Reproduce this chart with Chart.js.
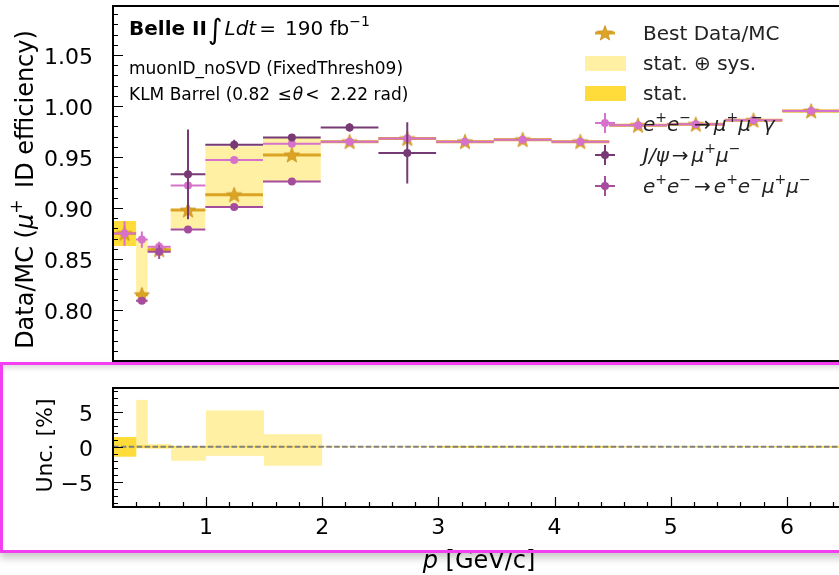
<!DOCTYPE html>
<html>
<head>
<meta charset="utf-8">
<script src="https://cdn.jsdelivr.net/npm/chart.js@4.4.1/dist/chart.umd.min.js"></script>
<style>
    body { margin: 0; background: #fff; width: 839px; height: 575px; overflow: hidden; position: relative; }
    canvas { position: absolute; left: 0; }
    #ratio { top: 0; }
    #unc { top: 365px; }
    #box {
        position: absolute; left: 0; top: 362px; width: 860px; height: 191px;
        box-sizing: border-box; border: 3px solid #f43ef2; pointer-events: none;
        box-shadow: 0 5px 8px rgba(0, 0, 0, 0.22), inset 0 5px 6px -3px rgba(0, 0, 0, 0.18);
    }
</style>
</head>
<body>
<canvas id="ratio" width="845" height="366"></canvas>
<canvas id="unc" width="845" height="210"></canvas>
<div id="box"></div>
<script>
// momentum bins [GeV/c]
const binLo = [0.2, 0.4, 0.5, 0.7, 1.0, 1.5, 2.0, 2.5, 3.0, 3.5, 4.0, 4.5, 5.0, 5.5, 6.0];
const binHi = [0.4, 0.5, 0.7, 1.0, 1.5, 2.0, 2.5, 3.0, 3.5, 4.0, 4.5, 5.0, 5.5, 6.0, 6.5];
const pCenter = [0.3, 0.45, 0.6, 0.85, 1.25, 1.75, 2.25, 2.75, 3.25, 3.75, 4.25, 4.75, 5.25, 5.75, 6.25];

// best Data/MC and its uncertainties [%]
const bestRatio = [0.875, 0.815, 0.859, 0.898, 0.913, 0.952, 0.965, 0.968, 0.965, 0.967, 0.965, 0.981, 0.982, 0.986, 0.995];
const totUp =   [1.4, 6.7, 0.4, 0.1, 5.2, 1.8, 0.05, 0.05, 0.15, 0.15, 0.15, 0.08, 0.08, 0.08, 0.15];
const totDown = [1.4, 0.2, 0.3, 2.0, 1.3, 2.7, 0.05, 0.05, 0.15, 0.15, 0.15, 0.08, 0.08, 0.08, 0.15];
const statUnc = [1.4, 0.2, 0.15, 0.1, 0.1, 0.1, 0.05, 0.05, 0.1, 0.1, 0.1, 0.05, 0.05, 0.05, 0.1];

// e+e- -> mu+mu- gamma (all bins)
const mmgRatio = [0.875, 0.869, 0.862, 0.922, 0.947, 0.963, 0.965, 0.968, 0.965, 0.967, 0.965, 0.981, 0.982, 0.986, 0.995];
const mmgErr =   [0.012, 0.008, 0.005, 0.002, 0.002, 0.002, 0.002, 0.002, 0.001, 0.001, 0.001, 0.001, 0.001, 0.001, 0.001];

// J/psi -> mu+mu- (bin indices)
const jpsiBins = [3, 4, 5, 6, 7];
const jpsiRatio = [0.933, 0.962, 0.969, 0.979, 0.954];
const jpsiErr = [0.044, 0.005, 0.003, 0.004, 0.030];

// e+e- -> e+e-mu+mu- (bin indices)
const eemmBins = [1, 2, 3, 4, 5];
const eemmRatio = [0.809, 0.857, 0.879, 0.901, 0.926];
const eemmErr = [0.003, 0.007, 0.002, 0.002, 0.002];

const xTicks = [1, 2, 3, 4, 5, 6];
const yTicksRatio = [0.80, 0.85, 0.90, 0.95, 1.00, 1.05];
const yTicksUnc = [-5, 0, 5];

const FONT = "'DejaVu Sans'";
const cBest = "#dca425";
const cTot = "#fff0a3";
const cStat = "#ffdc3a";
const cMmg = "#d672cc";
const cJpsi = "#773a74";
const cEemm = "#a54c9c";

function binPoints(idx, vals) {
    return idx.map((b, i) => ({ x: pCenter[b], y: vals[i], lo: binLo[b], hi: binHi[b] }));
}
const allBins = pCenter.map((_, i) => i);

function makeStar(r, color) {
    const c = document.createElement("canvas");
    const s = Math.ceil(2 * r + 2);
    c.width = c.height = s;
    const g = c.getContext("2d");
    g.fillStyle = color;
    g.strokeStyle = "#c8901c";
    g.lineWidth = 0.8;
    g.beginPath();
    for (let k = 0; k < 10; k++) {
        const rr = k % 2 ? r * 0.42 : r;
        const a = -Math.PI / 2 + (k * Math.PI) / 5;
        g.lineTo(s / 2 + rr * Math.cos(a), s / 2 + 0.6 + rr * Math.sin(a));
    }
    g.closePath();
    g.fill();
    g.stroke();
    return c;
}
const starImg = makeStar(8, cBest);

// draws text made of pieces: [text, font, dy] or a number (gap in px)
function richWidth(ctx, parts) {
    let w = 0;
    parts.forEach((p) => {
        if (typeof p === "number") { w += p; return; }
        ctx.font = p[1];
        w += ctx.measureText(p[0]).width;
    });
    return w;
}
function drawRich(ctx, x, y, parts) {
    ctx.textAlign = "left";
    ctx.textBaseline = "alphabetic";
    parts.forEach((p) => {
        if (typeof p === "number") { x += p; return; }
        ctx.font = p[1];
        ctx.fillText(p[0], x, y + (p[2] || 0));
        x += ctx.measureText(p[0]).width;
    });
}

const f20 = "20px " + FONT, i20 = "italic 20px " + FONT, s14 = "14px " + FONT;
const f17 = "17px " + FONT, i17 = "italic 17px " + FONT;
const f22 = "22px " + FONT;
const f24 = "24px " + FONT, i24 = "italic 24px " + FONT, s17 = "17px " + FONT;

// inward ticks and frame
function drawFrame(chart, t) {
    const { ctx, chartArea: a, scales: { x, y } } = chart;
    ctx.save();
    ctx.strokeStyle = "#000";
    ctx.lineWidth = 1.2;
    ctx.beginPath();
    for (let n = Math.ceil(y.min / t.yMinor - 1e-6); n * t.yMinor <= y.max + 1e-9; n++) {
        const v = n * t.yMinor;
        const major = Math.abs(v / t.yMajor - Math.round(v / t.yMajor)) < 1e-6;
        const py = Math.round(y.getPixelForValue(v)) + 0.5;
        ctx.moveTo(a.left, py);
        ctx.lineTo(a.left + (major ? 10 : 5), py);
    }
    if (t.xMinor) {
        for (let n = Math.ceil(x.min / t.xMinor - 1e-6); n * t.xMinor <= x.max + 1e-9; n++) {
            const v = n * t.xMinor;
            const major = Math.abs(v / t.xMajor - Math.round(v / t.xMajor)) < 1e-6;
            const px = Math.round(x.getPixelForValue(v)) + 0.5;
            ctx.moveTo(px, a.bottom);
            ctx.lineTo(px, a.bottom - (major ? 10 : 5));
        }
    }
    ctx.stroke();
    ctx.lineWidth = 2;
    ctx.strokeRect(a.left, a.top, a.right - a.left + 5, a.bottom - a.top);
    ctx.restore();
}

function fillBin(chart, i, v1, v2, color) {
    const { ctx, scales: { x, y } } = chart;
    const x1 = x.getPixelForValue(binLo[i]), x2 = x.getPixelForValue(binHi[i]);
    const y1 = y.getPixelForValue(v1), y2 = y.getPixelForValue(v2);
    ctx.fillStyle = color;
    ctx.fillRect(x1, Math.min(y1, y2), x2 - x1, Math.max(Math.abs(y2 - y1), 0.6));
}

// per-dataset bin-width lines and vertical error bars
const errorBars = {
    id: "errorBars",
    beforeDatasetDraw(chart, args) {
        const ds = chart.data.datasets[args.index];
        if (!ds.err) return;
        const { ctx, scales: { x, y } } = chart;
        ctx.save();
        ctx.strokeStyle = ds.lineColor;
        ctx.lineWidth = ds.lineW;
        ctx.lineCap = "butt";
        ds.data.forEach((p, i) => {
            const py = y.getPixelForValue(p.y);
            ctx.beginPath();
            ctx.moveTo(x.getPixelForValue(p.lo), py);
            ctx.lineTo(x.getPixelForValue(p.hi), py);
            if (ds.err[i]) {
                const px = x.getPixelForValue(p.x);
                ctx.moveTo(px, y.getPixelForValue(p.y - ds.err[i]));
                ctx.lineTo(px, y.getPixelForValue(p.y + ds.err[i]));
            }
            ctx.stroke();
        });
        ctx.restore();
    },
};

const ratioBands = {
    id: "ratioBands",
    beforeDatasetsDraw(chart) {
        allBins.forEach((i) => {
            const b = bestRatio[i];
            fillBin(chart, i, b * (1 - totDown[i] / 100), b * (1 + totUp[i] / 100), cTot);
        });
        allBins.forEach((i) => {
            const b = bestRatio[i];
            fillBin(chart, i, b * (1 - statUnc[i] / 100), b * (1 + statUnc[i] / 100), cStat);
        });
    },
    afterDraw(chart) {
        drawFrame(chart, { yMinor: 0.01, yMajor: 0.05 });
        const ctx = chart.ctx;
        ctx.save();
        ctx.fillStyle = "#000";
        // top-left labels
        drawRich(ctx, 129, 35, [["Belle II", "bold 20px " + FONT], 1, ["\u222B", "28px " + FONT, 4], 2,
            ["Ldt", i20], 3, ["=", f20], 9, ["190 fb", f20], ["\u22121", s14, -9]]);
        drawRich(ctx, 129, 74, [["muonID_noSVD (FixedThresh09)", f17]]);
        drawRich(ctx, 129, 100, [["KLM Barrel (0.82 ", f17], 2, ["\u2264", f17], 1, ["\u03B8", i17], 2,
            ["<", f17], ["  2.22 rad)", f17]]);

        // y title
        const yTitle = [["Data/MC (", f24], ["\u03BC", i24], ["+", s17, -11], 4, [" ID efficiency)", f24]];
        const a = chart.chartArea;
        ctx.save();
        ctx.translate(33, (a.top + a.bottom) / 2 + 6);
        ctx.rotate(-Math.PI / 2);
        drawRich(ctx, -richWidth(ctx, yTitle) / 2, 0, yTitle);
        ctx.restore();

        // legend
        const mx = 605, tx = 643;
        ctx.strokeStyle = cBest;
        ctx.lineWidth = 3;
        ctx.beginPath(); ctx.moveTo(mx - 10, 33); ctx.lineTo(mx + 10, 33); ctx.stroke();
        ctx.drawImage(starImg, mx - starImg.width / 2, 33 - starImg.height / 2);
        ctx.fillStyle = cTot; ctx.fillRect(585, 56, 41, 15);
        ctx.fillStyle = cStat; ctx.fillRect(585, 86, 41, 15);
        [[123, cMmg], [155, cJpsi], [186, cEemm]].forEach(([ry, c]) => {
            ctx.strokeStyle = c; ctx.fillStyle = c; ctx.lineWidth = 2;
            ctx.beginPath();
            ctx.moveTo(mx - 10, ry); ctx.lineTo(mx + 10, ry);
            ctx.moveTo(mx, ry - 10); ctx.lineTo(mx, ry + 10);
            ctx.stroke();
            ctx.beginPath(); ctx.arc(mx, ry, 4, 0, 2 * Math.PI); ctx.fill();
        });
        ctx.fillStyle = "#222";
        const sp = s14, up = -9;
        drawRich(ctx, tx, 40, [["Best Data/MC", f20]]);
        drawRich(ctx, tx, 70, [["stat. \u2295 sys.", f20]]);
        drawRich(ctx, tx, 100, [["stat.", f20]]);
        drawRich(ctx, tx, 131, [["e", i20], ["+", sp, up], ["e", i20], ["\u2212", sp, up], 3, ["\u2192", f20], 3,
            ["\u03BC", i20], ["+", sp, up], ["\u03BC", i20], ["\u2212", sp, up], ["\u03B3", i20]]);
        drawRich(ctx, tx, 162, [["J", i20], ["/", i20], ["\u03C8", i20], 3, ["\u2192", f20], 3,
            ["\u03BC", i20], ["+", sp, up], ["\u03BC", i20], ["\u2212", sp, up]]);
        drawRich(ctx, tx, 193, [["e", i20], ["+", sp, up], ["e", i20], ["\u2212", sp, up], 3, ["\u2192", f20], 3,
            ["e", i20], ["+", sp, up], ["e", i20], ["\u2212", sp, up],
            ["\u03BC", i20], ["+", sp, up], ["\u03BC", i20], ["\u2212", sp, up]]);
        ctx.restore();
    },
};

const uncBands = {
    id: "uncBands",
    beforeDatasetsDraw(chart) {
        allBins.forEach((i) => fillBin(chart, i, -totDown[i], totUp[i], cTot));
        allBins.forEach((i) => fillBin(chart, i, -statUnc[i], statUnc[i], cStat));
        // dashed line at zero
        const { ctx, chartArea: a, scales: { y } } = chart;
        const py = y.getPixelForValue(0);
        ctx.save();
        ctx.strokeStyle = "#808080";
        ctx.lineWidth = 2;
        ctx.setLineDash([5.5, 2.4]);
        ctx.beginPath(); ctx.moveTo(a.left, py); ctx.lineTo(a.right, py); ctx.stroke();
        ctx.restore();
    },
    afterDraw(chart) {
        drawFrame(chart, { yMinor: 1, yMajor: 5, xMinor: 0.2, xMajor: 1 });
        const { ctx, chartArea: a } = chart;
        ctx.save();
        ctx.fillStyle = "#000";
        const yTitle = [["Unc. [%]", f22]];
        ctx.translate(52, (a.top + a.bottom) / 2 - 2);
        ctx.rotate(-Math.PI / 2);
        drawRich(ctx, -richWidth(ctx, yTitle) / 2, 0, yTitle);
        ctx.restore();
        const xTitle = [["p", i24], [" [GeV/c]", f24]];
        ctx.save();
        ctx.fillStyle = "#000";
        drawRich(ctx, (a.left + a.right) / 2 - richWidth(ctx, xTitle) / 2, 203, xTitle);
        ctx.restore();
    },
};

function pointSet(label, idx, vals, errs, color, order) {
    return {
        label: label,
        data: binPoints(idx, vals),
        err: errs,
        lineColor: color,
        lineW: 2,
        backgroundColor: color,
        borderWidth: 0,
        pointRadius: 4,
        order: order,
    };
}

const tickFont = { family: "DejaVu Sans", size: 22 };

// keep the plot box fixed: no label overhang padding
function noOverhang(s) {
    s.paddingTop = 0; s.paddingBottom = 0; s.paddingLeft = 0; s.paddingRight = 0;
}

new Chart(document.getElementById("ratio"), {
    type: "scatter",
    data: {
        datasets: [
            {
                label: "Best Data/MC",
                data: binPoints(allBins, bestRatio),
                err: bestRatio.map(() => 0),
                lineColor: cBest,
                lineW: 3,
                pointStyle: starImg,
                order: 4,
            },
            pointSet("mumugamma", allBins, mmgRatio, mmgErr, cMmg, 3),
            pointSet("jpsi", jpsiBins, jpsiRatio, jpsiErr, cJpsi, 2),
            pointSet("eemumu", eemmBins, eemmRatio, eemmErr, cEemm, 1),
        ],
    },
    options: {
        responsive: false,
        animation: false,
        events: [],
        layout: { padding: { top: 6, bottom: 2, left: 0, right: 0 } },
        plugins: { legend: { display: false }, tooltip: { enabled: false } },
        scales: {
            x: { type: "linear", min: 0.2, max: 6.5, display: false },
            y: {
                type: "linear",
                min: 0.75,
                max: 1.098,
                grid: { display: false },
                border: { display: false },
                ticks: { font: tickFont, color: "#000", padding: 12, labelOffset: 3, callback: (v) => v.toFixed(2) },
                afterBuildTicks: (s) => { s.ticks = yTicksRatio.map((v) => ({ value: v })); },
                afterFit: (s) => { s.width = 113; noOverhang(s); },
            },
        },
    },
    plugins: [ratioBands, errorBars],
});

new Chart(document.getElementById("unc"), {
    type: "scatter",
    data: { datasets: [] },
    options: {
        responsive: false,
        animation: false,
        events: [],
        layout: { padding: { top: 23, bottom: 0, left: 0, right: 0 } },
        plugins: { legend: { display: false }, tooltip: { enabled: false } },
        scales: {
            x: {
                type: "linear",
                min: 0.2,
                max: 6.5,
                grid: { display: false },
                border: { display: false },
                ticks: { font: tickFont, color: "#000", padding: 0 },
                afterBuildTicks: (s) => { s.ticks = xTicks.map((v) => ({ value: v })); },
                afterFit: (s) => { s.height = 68; noOverhang(s); },
            },
            y: {
                type: "linear",
                min: -8.6,
                max: 8.4,
                grid: { display: false },
                border: { display: false },
                ticks: { font: tickFont, color: "#000", padding: 12, labelOffset: 3, callback: (v) => (v < 0 ? "\u2212" + -v : "" + v) },
                afterBuildTicks: (s) => { s.ticks = yTicksUnc.map((v) => ({ value: v })); },
                afterFit: (s) => { s.width = 113; noOverhang(s); },
            },
        },
    },
    plugins: [uncBands],
});
</script>
</body>
</html>
